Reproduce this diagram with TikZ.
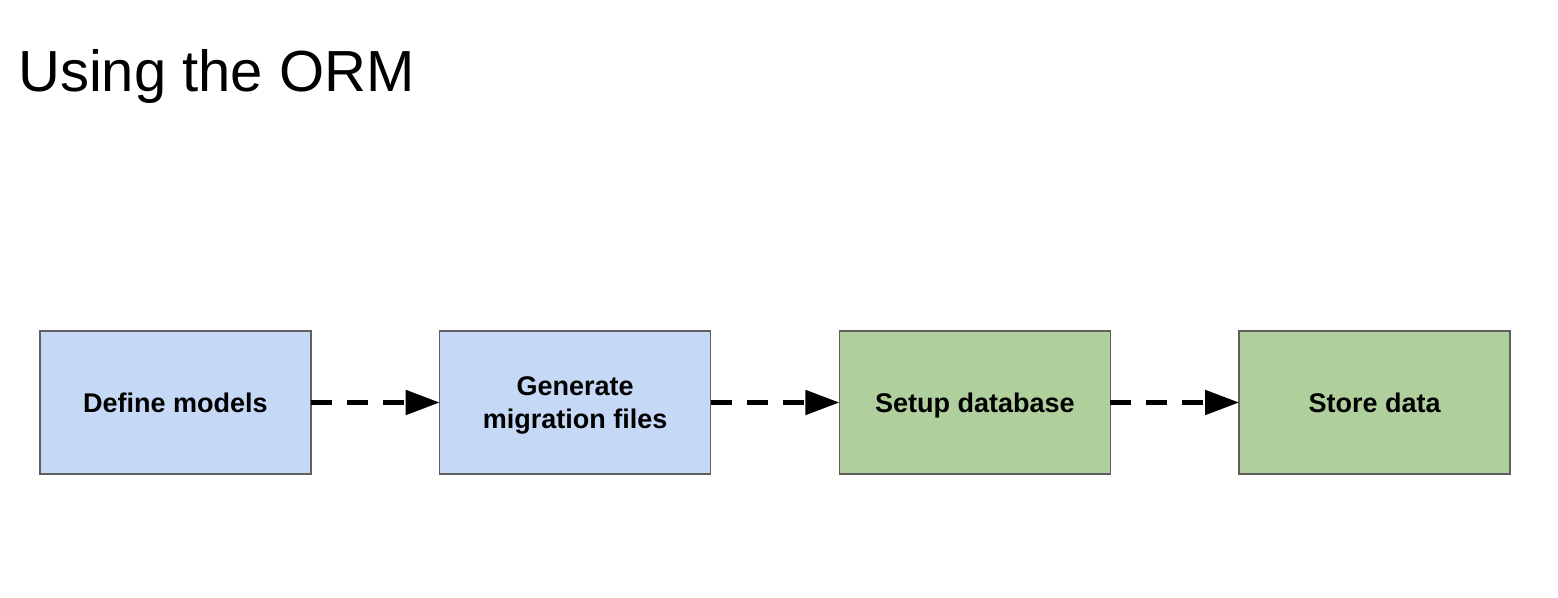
\documentclass[tikz,border=0pt]{standalone}
\usepackage{fontspec}
\setmainfont{Liberation Sans}
\usepackage{tikz}
\usetikzlibrary{positioning, arrows.meta}
\definecolor{modelblue}{RGB}{197,216,245}
\definecolor{dbgreen}{RGB}{175,208,157}
\definecolor{edgegray}{RGB}{95,95,95}

\begin{document}
\begin{tikzpicture}[x=1pt, y=1pt,
  stepbox/.style={draw=edgegray, line width=1.5pt, minimum width=271pt, minimum height=143pt,
    inner sep=0pt, outer sep=0pt, align=center, text height=23pt, text depth=2pt,
    font=\fontsize{27}{33}\selectfont\bfseries},
  flow/.style={line width=5pt, dash pattern=on 21pt off 15pt,
    -{Triangle[length=34pt, width=24pt]}}]

\def\boxgap{128.7pt}

% canvas
\useasboundingbox (0,0) rectangle (1558,597);

% Title
\node[anchor=base west, inner sep=0pt, font=\fontsize{58}{64}\selectfont] (title) at (18,505) {Using the ORM};

% Steps (left to right)
\node[stepbox, fill=modelblue] (models) at (175.5,194.5) {Define models};
\node[stepbox, fill=modelblue, right=\boxgap of models, text height=55pt, text depth=2pt] (migrate) {Generate\\migration files};
\node[stepbox, fill=dbgreen, right=\boxgap of migrate] (setup) {Setup database};
\node[stepbox, fill=dbgreen, right=\boxgap of setup] (store) {Store data};

% Arrows
\draw[flow] (models.east) -- (migrate.west);
\draw[flow] (migrate.east) -- (setup.west);
\draw[flow] (setup.east) -- (store.west);
\end{tikzpicture}
\end{document}
